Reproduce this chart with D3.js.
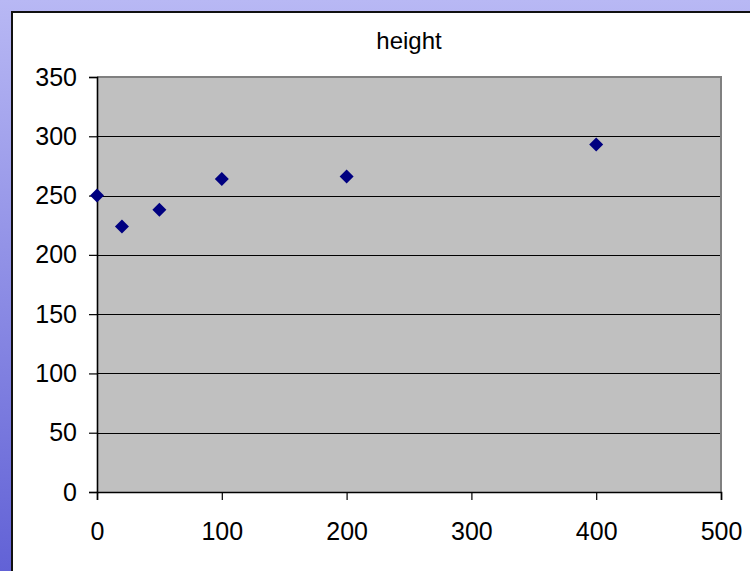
<!DOCTYPE html>
<html>
<head>
<meta charset="utf-8">
<script src="https://cdn.jsdelivr.net/npm/d3@7"></script>
<style>
  html, body { margin: 0; padding: 0; }
  svg { display: block; }
  text { font-family: "Liberation Sans", Arial, sans-serif; fill: #000; }
</style>
</head>
<body>
<svg id="chart" width="750" height="571"></svg>
<script>
// Measurements: dose (x) and plant height (y)
const doses = [0, 20, 50, 100, 200, 400];
const heights = [250, 224, 238, 264, 266, 293];
const xTicks = [0, 100, 200, 300, 400, 500];
const yTicks = [0, 50, 100, 150, 200, 250, 300, 350];
const title = "height";

const W = 750, H = 571;
const plot = { left: 97, right: 721, top: 77, bottom: 492 };

const svg = d3.select("#chart");
const defs = svg.append("defs");

// Blue slide backdrop behind the white chart sheet
const grad = defs.append("linearGradient")
  .attr("id", "bg").attr("x1", 0).attr("y1", 0).attr("x2", 0).attr("y2", 1);
grad.append("stop").attr("offset", 0).attr("stop-color", "#b8b8f4");
grad.append("stop").attr("offset", 1).attr("stop-color", "#6262d6");
svg.append("rect").attr("width", W).attr("height", H).attr("fill", "url(#bg)");

// White chart sheet with dark edge
svg.append("rect")
  .attr("x", 12).attr("y", 12).attr("width", W).attr("height", H)
  .attr("fill", "#fff").attr("stroke", "#111").attr("stroke-width", 2);

const x = d3.scaleLinear().domain([0, 500]).range([plot.left, plot.right]);
const y = d3.scaleLinear().domain([0, 350]).range([plot.bottom, plot.top]);

// Plot area fill
svg.append("rect")
  .attr("x", plot.left).attr("y", plot.top)
  .attr("width", plot.right - plot.left).attr("height", plot.bottom - plot.top)
  .attr("fill", "#c0c0c0");

// Horizontal gridlines
svg.append("g").selectAll("line")
  .data(yTicks.filter(v => v > 0 && v < 350))
  .join("line")
  .attr("x1", plot.left).attr("x2", plot.right)
  .attr("y1", d => Math.round(y(d)) + 0.5).attr("y2", d => Math.round(y(d)) + 0.5)
  .attr("stroke", "#000").attr("stroke-width", 1);

// Plot-area border (top and right)
svg.append("path")
  .attr("d", `M${plot.left},${plot.top} H${plot.right} V${plot.bottom}`)
  .attr("fill", "none").attr("stroke", "#808080").attr("stroke-width", 2);

// Y axis
const yAxis = d3.axisLeft(y).tickValues(yTicks).tickSize(8).tickPadding(12).tickFormat(d3.format("d"));
const gy = svg.append("g").attr("transform", `translate(${plot.left},0)`).call(yAxis);
gy.select(".domain").attr("stroke", "#000").attr("stroke-width", 1.6);
gy.selectAll(".tick line").attr("stroke", "#000").attr("stroke-width", 1.2);
gy.selectAll(".tick text").attr("font-size", 25).attr("font-family", "Liberation Sans, Arial, sans-serif")
  .attr("fill", "#000");

// X axis
const xAxis = d3.axisBottom(x).tickValues(xTicks).tickSize(8).tickPadding(22).tickFormat(d3.format("d"));
const gx = svg.append("g").attr("transform", `translate(0,${plot.bottom})`).call(xAxis);
gx.select(".domain").attr("stroke", "#000").attr("stroke-width", 1.6);
gx.selectAll(".tick line").attr("stroke", "#000").attr("stroke-width", 1.2);
gx.selectAll(".tick text").attr("font-size", 25).attr("font-family", "Liberation Sans, Arial, sans-serif")
  .attr("fill", "#000");

// Data markers: navy diamonds
const pts = doses.map((d, i) => ({ x: d, y: heights[i] }));
svg.append("g").selectAll("path")
  .data(pts)
  .join("path")
  .attr("transform", d => `translate(${x(d.x)},${y(d.y)})`)
  .attr("d", "M0,-7 L7,0 L0,7 L-7,0 Z")
  .attr("fill", "#000080");

// Title
svg.append("text")
  .attr("x", 409).attr("y", 49)
  .attr("text-anchor", "middle")
  .attr("font-size", 24)
  .text(title);
</script>
</body>
</html>
